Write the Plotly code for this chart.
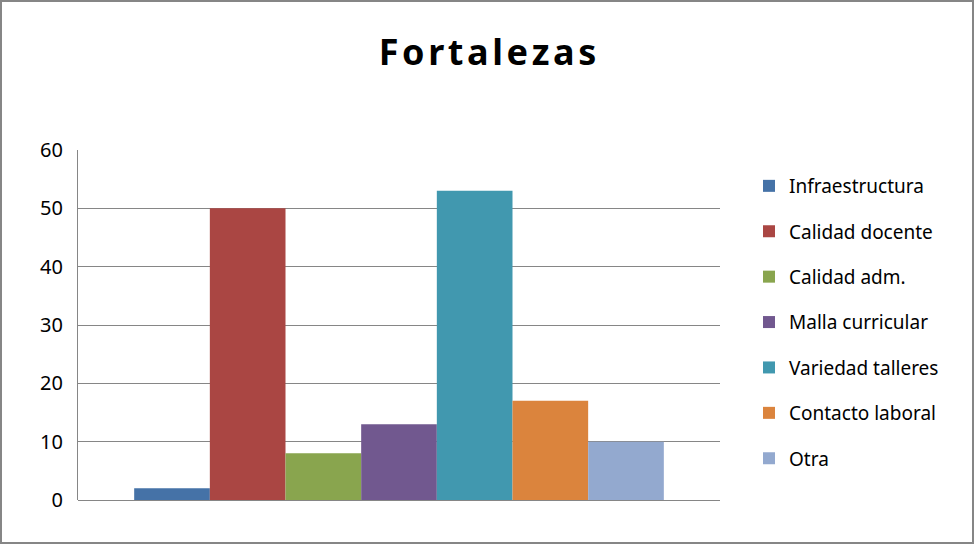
import plotly.graph_objects as go

categories = ["Infraestructura", "Calidad docente", "Calidad adm.", "Malla curricular",
              "Variedad talleres", "Contacto laboral", "Otra"]
values = [2, 50, 8, 13, 53, 17, 10]
colors = ["#4572A7", "#AA4643", "#89A54E", "#71588F", "#4198AF", "#DB843D", "#93A9CF"]
y_ticks = [0, 10, 20, 30, 40, 50, 60]

W, H = 975, 544
ml, mr, mt, mb = 78, 255, 150, 44

fig = go.Figure()
for name, v, c in zip(categories, values, colors):
    fig.add_trace(go.Bar(x=[""], y=[v], name=name, marker_color=c,
                         marker_line_width=0, legendgroup=name))

pw = W - ml - mr
ph = H - mt - mb
title_text = "\u200a".join("Fortalezas")
fig.update_layout(
    width=W, height=H,
    margin=dict(l=ml, r=mr, t=mt, b=mb),
    paper_bgcolor="white", plot_bgcolor="white",
    barmode="group", bargap=0.175, bargroupgap=0,
    font=dict(family="Noto Sans, DejaVu Sans, sans-serif", color="#000000"),
    title=dict(text="<b>" + title_text + "</b>", x=0.5, xanchor="center",
               xref="container", y=1 - 52 / H, yanchor="middle",
               font=dict(size=36, color="#000000")),
    legend=dict(x=1 + (749 - ml - pw) / pw, xanchor="left",
                y=1 - (167 - mt) / ph, yanchor="top",
                font=dict(size=19), tracegroupgap=17.7, itemwidth=30,
                bgcolor="rgba(0,0,0,0)"),
    showlegend=True,
    xaxis=dict(showticklabels=False, showgrid=False, zeroline=False,
               showline=False, ticks=""),
    yaxis=dict(range=[0, 60], tickvals=y_ticks, showgrid=True, gridcolor="#868686",
               gridwidth=1, showline=True, linecolor="#868686", linewidth=1,
               zeroline=True, zerolinecolor="#868686", zerolinewidth=1,
               tickfont=dict(size=20), ticks="", ticklabelstandoff=10),
    shapes=[dict(type="rect", xref="paper", yref="paper",
                 x0=(1 - ml) / pw, x1=(W - 2 - ml) / pw,
                 y0=(H - mb - (H - 1)) / ph, y1=(H - mb - 1) / ph,
                 line=dict(color="#868686", width=2), fillcolor="rgba(0,0,0,0)",
                 layer="below")],
)

fig.write_html("out.html", config={"displayModeBar": False})
with open("out.html", "r", encoding="utf-8") as f:
    html = f.read()
html = html.replace("<body>", '<body style="margin:0;padding:0;">', 1)
with open("out.html", "w", encoding="utf-8") as f:
    f.write(html)
